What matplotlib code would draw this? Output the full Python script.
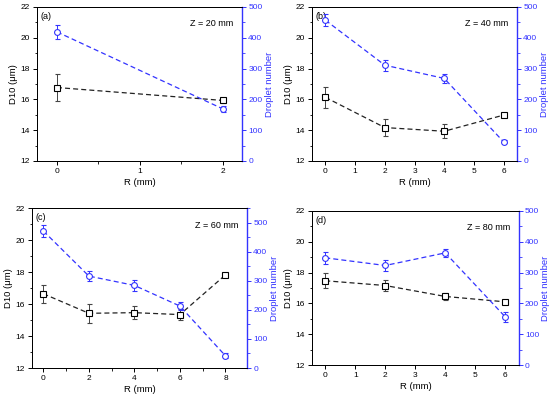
import numpy as np
import matplotlib.pyplot as plt
from matplotlib.ticker import MultipleLocator

plt.rcParams['font.family'] = ['Liberation Sans', 'DejaVu Sans']
plt.rcParams['font.size'] = 6.5

BLUE = '#3333ff'

# panel data: R positions, D10 (um) with errors, droplet number with errors
r_a = [0, 2]
d10_a = [16.77, 15.93]
d10_err_a = [0.85, 0.15]
num_a = [419, 169]
num_err_a = [22, 10]

r_b = [0, 2, 4, 6]
d10_b = [16.13, 14.17, 13.93, 14.98]
d10_err_b = [0.68, 0.56, 0.46, 0.10]
num_b = [457, 311, 268, 62]
num_err_b = [20, 18, 15, 5]

r_c = [0, 2, 4, 6, 8]
d10_c = [16.64, 15.42, 15.46, 15.34, 17.82]
d10_err_c = [0.56, 0.60, 0.41, 0.33, 0.10]
num_c = [471, 316, 284, 213, 42]
num_err_c = [20, 18, 18, 15, 8]

r_d = [0, 2, 4, 6]
d10_d = [17.47, 17.16, 16.45, 16.10]
d10_err_d = [0.48, 0.34, 0.25, 0.08]
num_d = [348, 323, 364, 156]
num_err_d = [20, 18, 14, 17]

panels = [
    ('(a)', 'Z = 20 mm', r_a, d10_a, d10_err_a, num_a, num_err_a,
     [0.0673, 0.5945, 0.3727, 0.388], (-0.24, 2.23), 1, 0.5, 500),
    ('(b)', 'Z = 40 mm', r_b, d10_b, d10_err_b, num_b, num_err_b,
     [0.5673, 0.5945, 0.3727, 0.388], (-0.45, 6.45), 1, None, 500),
    ('(c)', 'Z = 60 mm', r_c, d10_c, d10_err_c, num_c, num_err_c,
     [0.0582, 0.073, 0.391, 0.403], (-0.5, 8.95), 2, 1, 550),
    ('(d)', 'Z = 80 mm', r_d, d10_d, d10_err_d, num_d, num_err_d,
     [0.5673, 0.0806, 0.376, 0.388], (-0.44, 6.45), 1, None, 500),
]

fig = plt.figure(figsize=(5.5, 3.97), dpi=100)

for (tag, ztxt, r, d10, d10e, num, nume, pos, xlim, xmaj, xmin, ntop) in panels:
    ax = fig.add_axes(pos)
    ax2 = ax.twinx()

    ax.errorbar(r, d10, yerr=d10e, color='#222222', ls=(0, (4, 2.5)), lw=0.9,
                marker='s', ms=3.8, mfc='white', mec='black', mew=0.8,
                capsize=1.8, elinewidth=0.7, ecolor='#444444', zorder=3)
    ax2.errorbar(r, num, yerr=nume, color=BLUE, ls=(0, (4, 2.5)), lw=0.9,
                 marker='o', ms=4.2, mfc='white', mec=BLUE, mew=0.8,
                 capsize=1.8, elinewidth=0.7, ecolor=BLUE, zorder=3)

    ax.set_xlim(*xlim)
    ax.set_ylim(12, 22)
    ax2.set_ylim(0, ntop)

    ax.xaxis.set_major_locator(MultipleLocator(xmaj))
    if xmin:
        ax.xaxis.set_minor_locator(MultipleLocator(xmin))
    ax.yaxis.set_major_locator(MultipleLocator(2))
    ax.yaxis.set_minor_locator(MultipleLocator(1))
    ax2.yaxis.set_major_locator(MultipleLocator(100))
    ax2.yaxis.set_minor_locator(MultipleLocator(50))

    ax.tick_params(direction='out', length=3, width=0.7, labelsize=6, pad=2)
    ax.tick_params(which='minor', direction='out', length=1.8, width=0.6)
    ax2.tick_params(direction='out', length=3, width=0.7, labelsize=6,
                    colors=BLUE, pad=1.5)
    ax2.tick_params(which='minor', direction='out', length=1.8, width=0.6,
                    colors=BLUE)

    for s in ax.spines.values():
        s.set_linewidth(0.7)
    for s in ax2.spines.values():
        s.set_linewidth(0.7)
    ax2.spines['right'].set_color(BLUE)
    ax2.spines['right'].set_linewidth(1.0)

    ax.set_xlabel('R (mm)', fontsize=6.8, labelpad=2)
    ax.set_ylabel('D10 (μm)', fontsize=6.8, labelpad=2)
    ax2.set_ylabel('Droplet number', fontsize=6.8, color=BLUE, labelpad=1.5)

    ax.text(0.015, 0.97, tag, transform=ax.transAxes, ha='left', va='top',
            fontsize=6.5)
    ax.text(0.958, 0.92, ztxt, transform=ax.transAxes, ha='right', va='top',
            fontsize=6.5)

fig.savefig('out.png', dpi=100)
